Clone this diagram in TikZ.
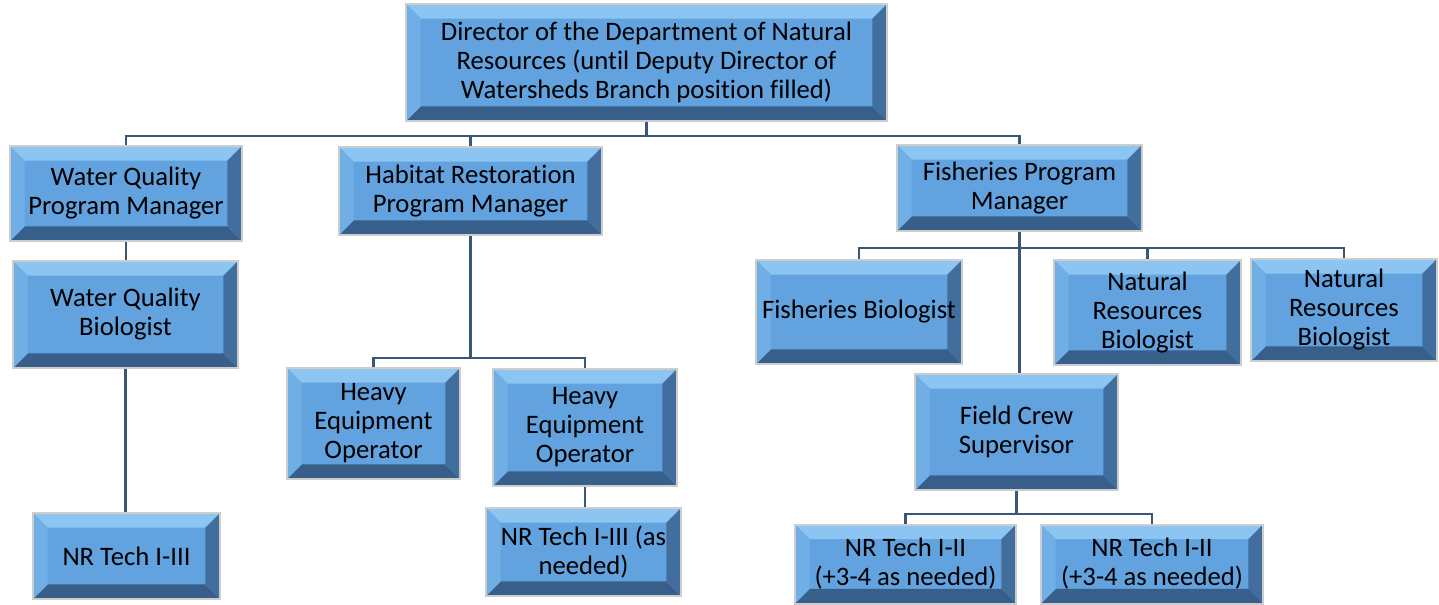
\documentclass[tikz,border=0pt]{standalone}
\usepackage{fontspec}
\setmainfont{Carlito}[Ligatures=CommonOff]
\definecolor{boxface}{RGB}{98,162,222}
\definecolor{bevtop}{RGB}{140,197,242}
\definecolor{bevleft}{RGB}{112,174,230}
\definecolor{bevright}{RGB}{66,110,158}
\definecolor{bevbot}{RGB}{56,94,138}
\definecolor{boxline}{RGB}{205,205,205}
\definecolor{linkc}{RGB}{58,88,118}
\def\bw{11pt}
\tikzset{
  box/.style 2 args={draw=boxline, line width=1.5pt, fill=boxface,
    minimum width=0.75pt*#1, minimum height=0.75pt*#2, inner sep=1pt,
    align=center, font=\fontsize{20}{21.75}\selectfont,
    path picture={
      \fill[bevtop] (path picture bounding box.north west) -- (path picture bounding box.north east)
        -- ([xshift=-\bw,yshift=-\bw]path picture bounding box.north east)
        -- ([xshift=\bw,yshift=-\bw]path picture bounding box.north west) -- cycle;
      \fill[bevbot] (path picture bounding box.south west) -- (path picture bounding box.south east)
        -- ([xshift=-\bw,yshift=\bw]path picture bounding box.south east)
        -- ([xshift=\bw,yshift=\bw]path picture bounding box.south west) -- cycle;
      \fill[bevleft] (path picture bounding box.north west) -- (path picture bounding box.south west)
        -- ([xshift=\bw,yshift=\bw]path picture bounding box.south west)
        -- ([xshift=\bw,yshift=-\bw]path picture bounding box.north west) -- cycle;
      \fill[bevright] (path picture bounding box.north east) -- (path picture bounding box.south east)
        -- ([xshift=-\bw,yshift=\bw]path picture bounding box.south east)
        -- ([xshift=-\bw,yshift=-\bw]path picture bounding box.north east) -- cycle;
    }},
  link/.style={draw=linkc, line width=2.2pt}
}
\begin{document}
\begin{tikzpicture}[x=0.75pt, y=-0.75pt]
        \useasboundingbox (0,0) rectangle (1439,604);
        % top level
        \node (dir) [box={481}{117}] at (646.5,62.5) {Director of the Department of Natural\\Resources (until Deputy Director of\\Watersheds Branch position filled)};
        \node (wqpm) [box={232}{95}] at (126,193.5) {Water Quality\\Program Manager};
        \node (hrpm) [box={263}{88}] at (470.5,191) {Habitat Restoration\\Program Manager};
        \node (fpm) [box={245}{86}] at (1019.5,188) {Fisheries Program\\Manager};
        % water quality
        \node (wqb) [box={225}{107}] at (125.5,314.5) {Water Quality\\Biologist};
        \node (nrt1) [box={187}{86}] at (126.5,556) {NR Tech I-III};
        % habitat restoration
        \node (heo1) [box={173}{111}] at (373.5,423.5) {Heavy\\Equipment\\Operator};
        \node (heo2) [box={184}{117}] at (585,427.5) {Heavy\\Equipment\\Operator};
        \node (nrt2) [box={195}{88}] at (583.5,552) {NR Tech I-III (as\\needed)};
        % fisheries
        \node (fb) [box={206}{104}] at (859,312) {Fisheries Biologist};
        \node (nrb1) [box={187}{105}] at (1147.5,312.5) {Natural\\Resources\\Biologist};
        \node (nrb2) [box={186}{102}] at (1344,310) {Natural\\Resources\\Biologist};
        \node (fcs) [box={203}{116}] at (1016.5,432) {Field Crew\\Supervisor};
        \node (nrt3) [box={221}{79}] at (905.5,564) {NR Tech I-II\\(+3-4 as needed)};
        \node (nrt4) [box={222}{79}] at (1152,564) {NR Tech I-II\\(+3-4 as needed)};
        % connectors
        \draw [link] (dir.south) -- ++(0,14) -| (wqpm.north);
        \draw [link] (dir.south) -- ++(0,14) -| (hrpm.north);
        \draw [link] (dir.south) -- ++(0,14) -| (fpm.north);
        \draw [link] (wqpm.south) -- (wqpm.south |- wqb.north);
        \draw [link] (wqb.south) -- (wqb.south |- nrt1.north);
        \draw [link] (hrpm.south) -- ++(0,122) -| (heo1.north);
        \draw [link] (hrpm.south) -- ++(0,122) -| (heo2.north);
        \draw [link] (heo2.south) -- (heo2.south |- nrt2.north);
        \draw [link] (fpm.south) -- ++(0,16) -| (fb.north);
        \draw [link] (fpm.south) -- ++(0,16) -| (nrb1.north);
        \draw [link] (fpm.south) -- ++(0,16) -| (nrb2.north);
        \draw [link] (fpm.south) -- (fpm.south |- fcs.north);
        \draw [link] (fcs.south) -- ++(0,23) -| (nrt3.north);
        \draw [link] (fcs.south) -- ++(0,23) -| (nrt4.north);
    \end{tikzpicture}
\end{document}
